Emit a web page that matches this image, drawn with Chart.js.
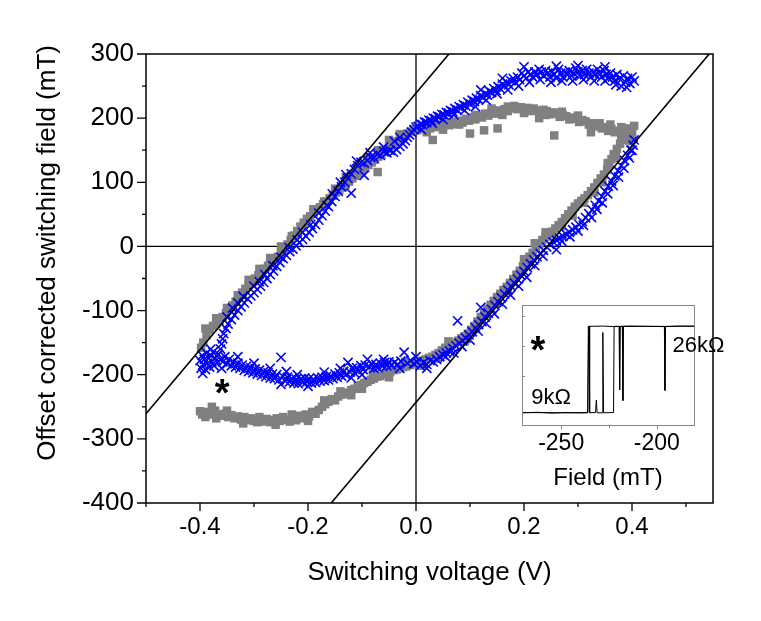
<!DOCTYPE html>
<html>
<head>
<meta charset="utf-8">
<title>Switching field vs voltage</title>
<script src="https://cdn.jsdelivr.net/npm/chart.js@4.4.1/dist/chart.umd.min.js"></script>
<style>
  body { margin: 0; background: #fff; }
  #wrap { position: relative; width: 761px; height: 621px; }
  #wrap canvas { position: absolute; left: 0; top: 0; }
</style>
</head>
<body>
<div id="wrap">
  <canvas id="mainChart" width="761" height="621"></canvas>
  <canvas id="insetChart" width="761" height="621"></canvas>
</div>
<script>
// ---- main loop data: [switching voltage (V), offset corrected field (mT)]
const graySquares = [
  [-0.400,-257],[-0.396,-262],[-0.390,-258],[-0.384,-262],[-0.378,-250],[-0.372,-256],[-0.366,-262],[-0.360,-264],
  [-0.354,-261],[-0.348,-266],[-0.342,-263],[-0.336,-268],[-0.330,-265],[-0.324,-270],[-0.318,-266],[-0.312,-271],
  [-0.306,-268],[-0.300,-272],[-0.294,-274],[-0.288,-270],[-0.282,-273],[-0.276,-269],[-0.270,-274],[-0.264,-271],
  [-0.258,-268],[-0.252,-272],[-0.246,-266],[-0.240,-270],[-0.234,-273],[-0.228,-268],[-0.222,-271],[-0.216,-264],
  [-0.210,-268],[-0.204,-262],[-0.198,-265],[-0.192,-258],[-0.186,-261],[-0.180,-255],[-0.174,-250],[-0.168,-246],
  [-0.162,-242],[-0.156,-238],[-0.150,-240],[-0.144,-234],[-0.138,-231],[-0.132,-228],[-0.126,-230],[-0.120,-224],
  [-0.114,-222],[-0.108,-218],[-0.102,-216],[-0.096,-213],[-0.090,-211],[-0.084,-208],[-0.078,-206],[-0.072,-203],
  [-0.066,-202],[-0.060,-199],[-0.054,-198],[-0.048,-196],[-0.042,-193],[-0.036,-192],[-0.030,-190],[-0.024,-188],
  [-0.018,-187],[-0.012,-185],[-0.006,-184],[0.000,-182],[0.006,-180],[0.012,-178],[0.018,-176],[0.024,-174],
  [0.030,-172],[0.036,-169],[0.042,-166],
  [0.048,-162],[0.054,-158],[0.060,-156],[0.066,-153],[0.072,-150],[0.078,-147],[0.084,-143],[0.090,-140],
  [0.096,-136],[0.102,-130],[0.108,-124],[0.114,-117],[0.120,-110],[0.126,-104],[0.132,-97],[0.138,-91],
  [0.144,-85],[0.150,-79],[0.156,-74],[0.162,-68],[0.168,-63],[0.174,-57],[0.180,-51],[0.186,-44],
  [0.192,-38],[0.198,-31],[0.204,-24],[0.210,-16],[0.216,-10],[0.222,-3],[0.228,4],[0.234,10],
  [0.240,15],[0.246,19],[0.252,23],[0.258,28],[0.264,33],[0.270,38],[0.276,44],[0.282,50],
  [0.288,56],[0.294,62],[0.300,67],[0.306,71],[0.312,75],[0.318,80],[0.324,86],[0.330,92],
  [0.336,99],[0.342,106],[0.348,112],[0.354,120],[0.358,128],[0.362,136],[0.366,144],[0.372,152],
  [0.378,160],[0.384,166],[0.390,171],[0.396,176],[0.400,182],[0.404,188],
  [0.400,178],[0.396,172],[0.392,184],[0.388,178],[0.384,170],[0.380,176],[0.374,180],[0.368,178],
  [0.362,183],[0.356,180],[0.350,186],[0.344,184],[0.338,189],[0.332,187],[0.326,192],[0.320,190],
  [0.314,195],[0.308,197],[0.302,194],[0.296,199],[0.290,201],[0.284,198],[0.278,203],[0.272,205],
  [0.266,202],[0.260,207],[0.254,209],[0.248,206],[0.242,211],[0.236,213],[0.230,209],[0.224,212],
  [0.218,215],[0.212,211],[0.206,216],[0.200,213],[0.194,217],[0.188,214],[0.182,219],[0.176,215],
  [0.170,211],[0.164,214],[0.158,209],[0.152,212],[0.146,207],[0.140,210],[0.134,204],[0.128,207],
  [0.122,201],[0.116,204],[0.110,198],[0.104,201],[0.098,196],[0.092,199],[0.086,193],[0.080,196],
  [0.074,191],[0.068,194],[0.062,189],[0.056,192],[0.050,187],[0.044,190],[0.038,186],[0.032,188],
  [0.026,184],[0.020,187],[0.014,183],[0.008,185],[0.002,181],[-0.004,183],[-0.010,179],[-0.016,176],
  [0.256,173],[0.324,178],[0.126,181],[0.151,184],[0.100,176],[0.031,166],[-0.071,116],[0.228,200],
  [-0.022,172],[-0.028,167],[-0.034,164],[-0.040,160],[-0.046,157],[-0.052,152],[-0.058,148],[-0.064,143],
  [-0.070,140],[-0.076,135],[-0.082,131],[-0.088,127],[-0.094,122],[-0.100,118],[-0.106,114],[-0.112,110],
  [-0.118,106],[-0.124,101],[-0.130,96],[-0.136,92],[-0.142,88],[-0.148,84],[-0.154,79],[-0.160,75],
  [-0.166,70],[-0.172,66],[-0.178,61],[-0.184,57],[-0.190,52],[-0.196,47],[-0.202,43],[-0.208,37],
  [-0.214,31],[-0.220,24],[-0.226,17],[-0.232,10],[-0.238,3],[-0.244,-4],[-0.250,-11],[-0.256,-16],
  [-0.262,-21],[-0.268,-25],[-0.274,-30],[-0.280,-35],[-0.286,-40],[-0.292,-45],[-0.298,-50],[-0.304,-55],
  [-0.310,-60],[-0.316,-66],[-0.322,-72],[-0.328,-79],[-0.334,-86],[-0.340,-92],[-0.346,-98],[-0.352,-104],
  [-0.358,-110],[-0.364,-116],[-0.370,-120],[-0.376,-124],[-0.382,-130],[-0.388,-138],[-0.394,-150],[-0.398,-158]
];

// squares lying off the main chain (band thickness)
const grayScatter = [
  [-0.390,-266],[-0.370,-268],[-0.350,-256],[-0.320,-276],[-0.290,-266],[-0.260,-278],[-0.230,-262],[-0.200,-272],
  [-0.170,-240],[-0.140,-226],[-0.120,-232],[-0.100,-222],[-0.080,-200],[-0.050,-204],[-0.020,-180],[0.010,-186],
  [0.040,-175],[0.060,-148],[0.090,-148],[0.110,-128],
  [-0.390,-128],[-0.370,-112],[-0.350,-96],[-0.330,-76],[-0.310,-52],[-0.290,-35],[-0.270,-18],[-0.250,0],
  [-0.230,16],[-0.210,30],[-0.190,58],[-0.170,70],[-0.150,90],[-0.130,108],[-0.110,122],[-0.090,138],
  [-0.070,150],[-0.050,166],[-0.030,175],
  [0.200,-20],[0.220,5],[0.240,22],[0.270,32],[0.290,48],[0.310,68],[0.330,84],[0.345,100],
  [0.355,130],[0.370,140],[0.380,170],[0.395,165],[0.400,170],[0.150,-88],[0.130,-106],[0.170,-70],
  [0.380,186],[0.360,190],[0.340,192],[0.300,204],[0.270,210],[0.240,205],[0.200,208],[0.170,218],
  [0.140,215],[0.110,205],[0.080,190],[0.050,182],[0.020,178],[0.160,205]
];

const blueCrosses = [
  [-0.400,-178],[-0.398,-190],[-0.396,-170],[-0.394,-184],[-0.392,-176],[-0.390,-192],[-0.388,-166],[-0.386,-182],
  [-0.384,-174],[-0.382,-188],[-0.380,-170],[-0.378,-180],[-0.376,-165],[-0.374,-186],[-0.372,-174],[-0.370,-178],
  [-0.366,-168],[-0.362,-176],[-0.358,-180],[-0.354,-172],[-0.350,-183],[-0.346,-176],[-0.342,-186],[-0.338,-180],
  [-0.334,-188],[-0.330,-182],[-0.326,-190],[-0.322,-185],[-0.318,-193],[-0.314,-187],[-0.310,-195],[-0.306,-189],
  [-0.302,-197],[-0.298,-191],[-0.294,-199],[-0.290,-193],[-0.286,-201],[-0.282,-195],[-0.278,-203],[-0.274,-197],
  [-0.270,-205],[-0.266,-199],[-0.262,-206],[-0.258,-200],[-0.254,-208],[-0.250,-173],[-0.246,-203],[-0.242,-210],
  [-0.238,-204],[-0.234,-211],[-0.230,-206],[-0.226,-213],[-0.222,-207],[-0.218,-214],[-0.214,-207],[-0.210,-212],
  [-0.206,-205],[-0.202,-211],[-0.198,-206],[-0.194,-213],[-0.190,-207],[-0.186,-212],[-0.182,-205],[-0.178,-210],
  [-0.174,-204],[-0.170,-209],[-0.166,-203],[-0.162,-208],[-0.158,-202],[-0.154,-206],[-0.150,-199],[-0.146,-204],
  [-0.142,-197],[-0.138,-202],[-0.134,-195],[-0.130,-200],[-0.126,-181],[-0.122,-196],[-0.118,-190],[-0.114,-197],
  [-0.110,-189],[-0.106,-194],[-0.102,-186],[-0.098,-192],[-0.094,-185],[-0.090,-176],[-0.086,-188],[-0.082,-183],
  [-0.078,-190],[-0.074,-184],[-0.070,-189],[-0.066,-182],[-0.062,-187],[-0.058,-181],[-0.054,-186],[-0.050,-180],
  [-0.046,-185],[-0.040,-181],[-0.034,-184],[-0.028,-179],[-0.022,-165],[-0.016,-182],[-0.010,-178],[-0.004,-183],
  [0.002,-180],[0.008,-186],[0.014,-181],[0.020,-184],[0.026,-178],[0.032,-180],
  [0.038,-176],[0.044,-172],[0.050,-169],[0.056,-166],[0.062,-163],[0.068,-159],[0.074,-155],[0.080,-151],
  [0.086,-147],[0.092,-143],[0.098,-138],[0.104,-133],[0.110,-127],[0.116,-122],[0.122,-117],[0.128,-110],
  [0.134,-104],[0.140,-98],[0.146,-92],[0.152,-86],[0.158,-80],[0.164,-74],[0.170,-68],[0.176,-62],
  [0.182,-57],[0.188,-51],[0.194,-45],[0.200,-39],[0.206,-33],[0.212,-27],[0.218,-21],[0.224,-16],
  [0.230,-11],[0.236,-6],[0.242,-1],[0.248,3],[0.254,7],[0.260,10],[0.266,13],[0.272,16],
  [0.278,19],[0.284,22],[0.290,26],[0.296,30],[0.302,34],[0.308,39],[0.314,45],[0.320,51],
  [0.326,57],[0.332,64],[0.338,71],[0.344,78],[0.350,86],[0.356,94],[0.362,102],[0.368,110],
  [0.374,118],[0.380,126],[0.386,134],[0.392,142],[0.398,150],[0.402,158],[0.404,166],
  [0.077,-116],[0.120,-95],
  [0.404,258],[0.400,264],[0.396,254],[0.392,262],[0.388,256],[0.384,266],[0.380,250],[0.376,262],
  [0.372,268],[0.368,258],[0.364,264],[0.360,270],[0.356,262],[0.352,268],[0.348,274],[0.344,264],
  [0.340,270],[0.336,276],[0.332,268],[0.328,272],[0.324,264],[0.320,270],[0.316,276],[0.312,268],
  [0.308,274],[0.304,266],[0.300,272],[0.296,278],[0.292,270],[0.288,266],[0.284,274],[0.280,268],
  [0.276,272],[0.272,264],[0.268,270],[0.264,276],[0.260,262],[0.256,268],[0.252,272],[0.248,264],
  [0.244,270],[0.240,274],[0.236,266],[0.232,272],[0.228,276],[0.224,268],[0.220,272],[0.216,264],
  [0.212,268],[0.208,272],[0.204,262],[0.200,266],[0.196,270],[0.192,260],[0.188,264],[0.184,256],
  [0.180,262],[0.176,258],[0.172,252],[0.168,256],[0.164,250],[0.160,253],[0.156,246],[0.152,249],
  [0.148,243],[0.144,246],[0.140,240],[0.136,242],[0.132,236],[0.128,238],[0.124,232],[0.120,235],
  [0.116,229],[0.112,231],[0.108,226],[0.104,228],[0.100,222],[0.096,225],[0.092,219],[0.088,221],
  [0.084,216],[0.080,218],[0.076,213],[0.072,215],[0.068,210],[0.064,212],[0.060,208],[0.056,209],
  [0.052,205],[0.048,206],[0.044,202],[0.040,203],[0.036,199],[0.032,200],[0.028,196],[0.024,197],
  [0.020,193],[0.016,194],[0.012,190],[0.008,191],[0.004,187],[0.000,186],[-0.004,182],[-0.008,178],
  [-0.012,174],[-0.016,170],[-0.020,165],
  [-0.024,160],[-0.030,156],[-0.036,151],[-0.042,147],[-0.048,150],[-0.054,146],[-0.060,148],[-0.066,142],
  [-0.072,144],[-0.078,138],[-0.084,139],[-0.090,134],[-0.096,130],[-0.102,131],[-0.108,126],[-0.114,120],
  [-0.120,113],[-0.126,106],[-0.132,100],[-0.138,93],[-0.144,86],[-0.150,78],[-0.156,70],[-0.162,62],
  [-0.168,55],[-0.174,48],[-0.180,41],[-0.186,34],[-0.192,28],[-0.198,22],[-0.204,16],[-0.210,11],
  [-0.216,6],[-0.222,1],[-0.228,-4],[-0.234,-8],[-0.240,-14],[-0.246,-19],[-0.252,-25],[-0.258,-31],
  [-0.264,-38],[-0.270,-44],[-0.276,-50],[-0.282,-56],[-0.288,-62],[-0.294,-67],[-0.300,-72],[-0.306,-77],
  [-0.312,-82],[-0.318,-88],[-0.324,-94],[-0.330,-100],[-0.336,-107],[-0.342,-114],[-0.348,-121],[-0.352,-128],
  [-0.356,-136],[-0.358,-144],[-0.360,-152],[-0.362,-160],
  [-0.120,83],[-0.096,111]
];

// crosses lying off the main chain (band thickness)
const blueScatter = [
  [-0.350,-110],[-0.340,-96],[-0.330,-88],[-0.320,-78],[-0.300,-62],[-0.290,-55],[-0.280,-44],[-0.265,-30],
  [-0.250,-17],[-0.235,-2],[-0.220,10],[-0.210,22],[-0.195,34],[-0.180,52],[-0.165,64],[-0.155,82],
  [-0.140,100],[-0.130,112],[-0.110,133],[-0.085,146],[-0.060,155],[-0.040,164],[-0.030,170],
  [0.260,-5],[0.270,8],[0.285,15],[0.300,24],[0.310,33],[0.325,45],[0.335,58],[0.345,68],
  [0.355,82],[0.365,95],[0.375,108],[0.385,122],[0.395,138],[0.400,150],[0.235,-15],[0.220,-30],
  [0.205,-48],[0.190,-62],[0.175,-76],[0.160,-90],[0.145,-105],[0.130,-120],[0.115,-132],[0.100,-146],
  [0.085,-156],[0.070,-166],[0.055,-172],
  [0.390,248],[0.370,252],[0.350,258],[0.330,258],[0.310,260],[0.290,258],[0.270,258],[0.250,256],
  [0.230,260],[0.210,256],[0.190,250],[0.170,244],[0.150,238],[0.130,228],[0.110,218],[0.090,212],
  [0.070,205],[0.050,198],[0.030,192],[0.010,182],[0.200,280],[0.300,282],[0.260,281],[0.350,280],
  [0.160,262],[0.120,244],
  [-0.380,-160],[-0.395,-198],[-0.360,-190],[-0.330,-172],[-0.300,-182],[-0.270,-190],[-0.240,-195],[-0.200,-218],
  [-0.170,-196],[-0.140,-190],[-0.100,-200],[-0.060,-176],[-0.030,-190],[0.000,-172],[0.020,-190],[-0.250,-215],
  [-0.220,-200],[-0.120,-205]
];

// guide lines (end points in data units)
const guideLeft = [[-0.5, -261], [0.061, 300]];
const guideRight = [[-0.157, -400], [0.543, 300]];

// axis ticks
const voltageTicks = [-0.4, -0.2, 0.0, 0.2, 0.4];
const voltageMinor = [-0.5, -0.3, -0.1, 0.1, 0.3, 0.5];
const fieldTicks = [-400, -300, -200, -100, 0, 100, 200, 300];
const fieldMinor = [-350, -250, -150, -50, 50, 150, 250];
const starMark = [-0.359, -216];
const fieldTitle = "Offset corrected switching field (mT)";
const fieldTitleCentre = -10; // field value the rotated y title is centred on

// ---- inset data: [field (mT), resistance (kOhm)]
const sweepA = [
  [-270, 9.0], [-262, 9.1], [-255, 8.95], [-248, 9.05], [-241, 9.0], [-236.0, 9.05],
  [-235.8, 26.0], [-228, 26.05], [-222, 25.95], [-214, 26.05], [-205, 26.0], [-196, 25.95],
  [-188, 26.05], [-180.5, 26.0]
];
const sweepB = [
  [-270, 9.05], [-250, 9.0], [-236.2, 9.0], [-235.6, 26.0], [-235.3, 26.0], [-235.1, 9.0],
  [-232.0, 9.05], [-231.6, 11.5], [-231.2, 9.0], [-228.6, 9.0], [-228.2, 24.8], [-227.8, 9.0],
  [-222.6, 9.05], [-222.3, 26.0], [-219.7, 26.0], [-219.4, 13.5], [-219.1, 26.0], [-218.0, 26.0],
  [-217.7, 11.4], [-217.4, 26.0], [-196.0, 26.0], [-195.7, 13.4], [-195.4, 26.0], [-180.5, 26.05]
];
const fieldInsetTicks = [-250, -200];
const fieldInsetMinor = [-225];
const resInsetTicks = [16.3, 22.2, 28.1];
const insetLabels = [
  { text: "*", x: -262.2, y: 23.0, star: true },
  { text: "9k\u03A9", x: -265.7, y: 11.9 },
  { text: "26k\u03A9", x: -191.8, y: 22.2 }
];

const FONT = "'Liberation Sans', Arial, Helvetica, sans-serif";

function toXY(pairs) {
  return pairs.map(([x, y]) => ({ x, y }));
}

function drawStar(ctx, px, py, size) {
  ctx.save();
  ctx.fillStyle = "#000";
  ctx.font = "bold " + size + "px " + FONT;
  ctx.textAlign = "center";
  ctx.textBaseline = "alphabetic";
  ctx.fillText("*", px, py + size * 0.56);
  ctx.restore();
}

const mainFrame = {
  id: "mainFrame",
  beforeDatasetsDraw(chart) {
    const { ctx, chartArea: a, scales } = chart;
    const x0 = scales.x.getPixelForValue(0);
    const y0 = scales.y.getPixelForValue(0);
    ctx.save();
    ctx.strokeStyle = "#000";
    ctx.lineWidth = 1.3;
    ctx.beginPath();
    ctx.moveTo(x0, a.top);
    ctx.lineTo(x0, a.bottom);
    ctx.moveTo(a.left, y0);
    ctx.lineTo(a.right, y0);
    ctx.stroke();
    ctx.restore();
  },
  afterDatasetsDraw(chart) {
    const { ctx, chartArea: a, scales } = chart;
    ctx.save();
    ctx.strokeStyle = "#000";
    ctx.lineWidth = 1.5;
    ctx.strokeRect(a.left, a.top, a.right - a.left, a.bottom - a.top);
    ctx.lineWidth = 1.3;
    ctx.beginPath();
    voltageTicks.forEach((v) => {
      const px = scales.x.getPixelForValue(v);
      ctx.moveTo(px, a.bottom);
      ctx.lineTo(px, a.bottom + 8);
    });
    voltageMinor.forEach((v) => {
      const px = scales.x.getPixelForValue(v);
      ctx.moveTo(px, a.bottom);
      ctx.lineTo(px, a.bottom + 4);
    });
    fieldTicks.forEach((v) => {
      const py = scales.y.getPixelForValue(v);
      ctx.moveTo(a.left, py);
      ctx.lineTo(a.left - 9, py);
    });
    fieldMinor.forEach((v) => {
      const py = scales.y.getPixelForValue(v);
      ctx.moveTo(a.left, py);
      ctx.lineTo(a.left - 4, py);
    });
    ctx.stroke();

    // y axis title, rotated
    ctx.translate(48, scales.y.getPixelForValue(fieldTitleCentre));
    ctx.rotate(-Math.PI / 2);
    ctx.fillStyle = "#000";
    ctx.font = "26px " + FONT;
    ctx.textAlign = "center";
    ctx.textBaseline = "middle";
    ctx.fillText(fieldTitle, 0, 0);
    ctx.restore();

    drawStar(ctx, scales.x.getPixelForValue(starMark[0]), scales.y.getPixelForValue(starMark[1]), 38);
  }
};

new Chart(document.getElementById("mainChart"), {
  type: "scatter",
  data: {
    datasets: [
      {
        data: toXY(guideLeft), showLine: true, borderColor: "#000", borderWidth: 1.6,
        pointRadius: 0, order: 0
      },
      {
        data: toXY(guideRight), showLine: true, borderColor: "#000", borderWidth: 1.6,
        pointRadius: 0, order: 0
      },
      {
        data: toXY(blueCrosses.concat(blueScatter)), pointStyle: "crossRot", pointRadius: 6.5,
        borderColor: "#0000ff", backgroundColor: "#0000ff", borderWidth: 1.6, order: 1
      },
      {
        data: toXY(graySquares.concat(grayScatter)), pointStyle: "rect", pointRadius: 6,
        borderColor: "#808080", backgroundColor: "#808080", borderWidth: 0, order: 2
      }
    ]
  },
  options: {
    responsive: false,
    animation: false,
    devicePixelRatio: 1,
    events: [],
    layout: { padding: { top: 54, right: 48, left: 0, bottom: 0 } },
    plugins: { legend: { display: false }, tooltip: { enabled: false } },
    scales: {
      x: {
        type: "linear",
        min: -0.5,
        max: 0.55,
        afterBuildTicks: (s) => { s.ticks = voltageTicks.map((v) => ({ value: v })); },
        afterFit: (s) => { s.height = 118; },
        grid: { display: false, drawTicks: false },
        border: { display: false },
        ticks: {
          color: "#000", font: { family: FONT, size: 24 }, padding: 10,
          maxRotation: 0, autoSkip: false,
          callback: (v) => Number(v).toFixed(1)
        },
        title: {
          display: true, text: "Switching voltage (V)", color: "#000",
          font: { family: FONT, size: 26 }, padding: { top: 0, bottom: 33 }
        }
      },
      y: {
        type: "linear",
        min: -400,
        max: 300,
        afterBuildTicks: (s) => { s.ticks = fieldTicks.map((v) => ({ value: v })); },
        afterFit: (s) => { s.width = 146; },
        grid: { display: false, drawTicks: false },
        border: { display: false },
        ticks: {
          color: "#000", font: { family: FONT, size: 26 }, padding: 12,
          autoSkip: false, callback: (v) => String(v)
        },
        title: { display: false }
      }
    }
  },
  plugins: [mainFrame]
});

const insetFrame = {
  id: "insetFrame",
  beforeDatasetsDraw(chart) {
    const { ctx, chartArea: a } = chart;
    ctx.save();
    ctx.fillStyle = "#fff";
    ctx.fillRect(a.left, a.top, a.right - a.left, a.bottom - a.top);
    ctx.restore();
  },
  afterDatasetsDraw(chart) {
    const { ctx, chartArea: a, scales } = chart;
    ctx.save();
    ctx.strokeStyle = "#888";
    ctx.lineWidth = 1;
    ctx.strokeRect(a.left + 0.5, a.top + 0.5, a.right - a.left, a.bottom - a.top);
    ctx.beginPath();
    fieldInsetTicks.forEach((v) => {
      const px = Math.round(scales.x.getPixelForValue(v)) + 0.5;
      ctx.moveTo(px, a.bottom);
      ctx.lineTo(px, a.bottom + 4);
    });
    fieldInsetMinor.forEach((v) => {
      const px = Math.round(scales.x.getPixelForValue(v)) + 0.5;
      ctx.moveTo(px, a.bottom);
      ctx.lineTo(px, a.bottom + 3);
    });
    resInsetTicks.forEach((v) => {
      const py = Math.round(scales.y.getPixelForValue(v)) + 0.5;
      ctx.moveTo(a.left, py);
      ctx.lineTo(a.left + 3, py);
    });
    ctx.stroke();
    ctx.restore();

    insetLabels.forEach((l) => {
      const px = scales.x.getPixelForValue(l.x);
      const py = scales.y.getPixelForValue(l.y);
      if (l.star) {
        drawStar(ctx, px, py, 38);
        return;
      }
      ctx.save();
      ctx.fillStyle = "#000";
      ctx.font = "22px " + FONT;
      ctx.textAlign = "left";
      ctx.textBaseline = "middle";
      ctx.fillText(l.text, px, py);
      ctx.restore();
    });
  }
};

new Chart(document.getElementById("insetChart"), {
  type: "scatter",
  data: {
    datasets: [
      { data: toXY(sweepA), showLine: true, borderColor: "#000", borderWidth: 1, pointRadius: 0, tension: 0 },
      { data: toXY(sweepB), showLine: true, borderColor: "#000", borderWidth: 1, pointRadius: 0, tension: 0 }
    ]
  },
  options: {
    responsive: false,
    animation: false,
    devicePixelRatio: 1,
    events: [],
    layout: { padding: { top: 305, right: 67, left: 0, bottom: 0 } },
    plugins: { legend: { display: false }, tooltip: { enabled: false } },
    scales: {
      x: {
        type: "linear",
        min: -270.5,
        max: -180.5,
        afterBuildTicks: (s) => { s.ticks = fieldInsetTicks.map((v) => ({ value: v })); },
        afterFit: (s) => { s.height = 196; },
        grid: { display: false, drawTicks: false },
        border: { display: false },
        ticks: {
          color: "#000", font: { family: FONT, size: 23 }, padding: 5,
          maxRotation: 0, autoSkip: false, callback: (v) => String(v)
        },
        title: {
          display: true, text: "Field (mT)", color: "#000",
          font: { family: FONT, size: 24 }, padding: { top: 0, bottom: 128 }
        }
      },
      y: {
        type: "linear",
        min: 6.6,
        max: 30.2,
        afterFit: (s) => { s.width = 522; },
        grid: { display: false, drawTicks: false },
        border: { display: false },
        ticks: { display: false }
      }
    }
  },
  plugins: [insetFrame]
});
</script>
</body>
</html>
